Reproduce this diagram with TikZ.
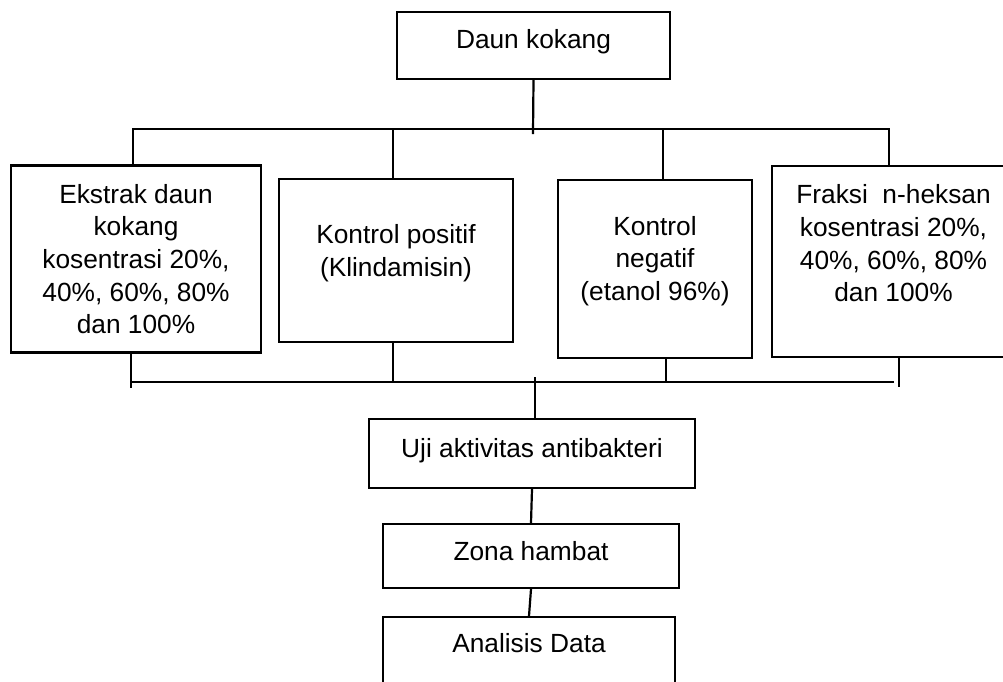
\documentclass[tikz,border=0pt]{standalone}
\usepackage{fontspec}
\setmainfont{Liberation Sans}
\usetikzlibrary{positioning, calc}

\begin{document}
\begin{tikzpicture}[
  x=1pt, y=-1pt,
  font=\fontsize{26.3}{32.7}\selectfont,
  flowbox/.style={rectangle, draw=black, line width=2.2pt, fill=white, inner sep=0pt, align=center},
  boxtext/.style={align=center, inner sep=0pt},
  link/.style={line width=2.2pt, color=black, line cap=rect}
]
\useasboundingbox (0,0) rectangle (1003,681);
\clip (0,0) rectangle (1003,681);

% sample and treatment boxes
\node[flowbox, minimum width=273pt, minimum height=67pt,
      label={[boxtext, yshift=4pt]center:Daun kokang}] (daun) at (533.5,45.5) {};

\node[flowbox, minimum width=250pt, minimum height=187pt] (ekstrak) at (136,259) {Ekstrak daun\\kokang\\kosentrasi 20\%,\\40\%, 60\%, 80\%\\dan 100\%};
\node[flowbox, minimum width=234pt, minimum height=163pt,
      label={[boxtext, yshift=7pt]center:{Kontrol positif\\(Klindamisin)}}] (positif) at (396,260.5) {};
\node[flowbox, minimum width=194pt, minimum height=178pt,
      label={[boxtext, yshift=8pt]center:{Kontrol\\negatif\\(etanol 96\%)}}] (negatif) at (655,269) {};
\node[flowbox, minimum width=243pt, minimum height=191pt,
      label={[boxtext, yshift=18pt]center:{Fraksi\ \ n-heksan\\kosentrasi 20\%,\\40\%, 60\%, 80\%\\dan 100\%}}] (fraksi) at (893.5,261.5) {};

% test steps
\node[flowbox, minimum width=326pt, minimum height=69pt,
      label={[boxtext, yshift=3pt]center:Uji aktivitas antibakteri}] (uji) at (532,453.5) {};
\node[flowbox, minimum width=296pt, minimum height=64pt,
      label={[boxtext, yshift=4.5pt]center:Zona hambat}] (zona) at (531,556) {};
\node[flowbox, minimum width=292pt, minimum height=80pt,
      label={[boxtext, yshift=13.5pt]center:Analisis Data}] (analisis) at (529,657) {};

% upper bus
\coordinate (topL) at (133,129);
\coordinate (top2) at (393,129);
\coordinate (top3) at (663,129);
\coordinate (topR) at (889,129);
\coordinate (daunjoin) at (533,133);
\draw[link] (topL) -- (topR);
\draw[link] (daun.south) -- (daunjoin);
\draw[link] (topL) -- (topL |- ekstrak.north);
\draw[link] (top2) -- (top2 |- positif.north);
\draw[link] (top3) -- (top3 |- negatif.north);
\draw[link] (topR) -- (topR |- fraksi.north);

% lower bus
\coordinate (botL) at (131,382);
\coordinate (bot2) at (393,382);
\coordinate (bot3) at (666,382);
\coordinate (bot4) at (899,386);
\coordinate (botR) at (893,382);
\coordinate (botC) at (535,378);
\draw[link] (botL) -- (botR);
\draw[link] (botL |- ekstrak.south) -- ($(botL)+(0,5)$);
\draw[link] (bot2 |- positif.south) -- (bot2);
\draw[link] (bot3 |- negatif.south) -- (bot3);
\draw[link] (bot4 |- fraksi.south) -- (bot4);
\draw[link] (botC) -- (botC |- uji.north);

\draw[link] (uji.south) -- (zona.north);
\draw[link] (zona.south) -- (analisis.north);

\end{tikzpicture}
\end{document}
